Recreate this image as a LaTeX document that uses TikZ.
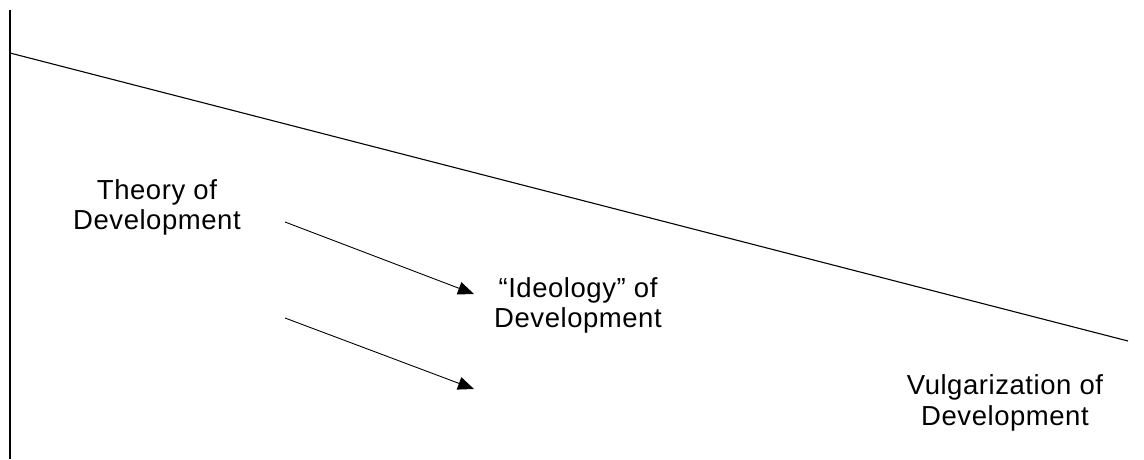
\documentclass[tikz,border=0pt]{standalone}
\usepackage{fontspec}
\setmainfont{Liberation Sans}
\newfontfamily\labfont[LetterSpace=2]{Liberation Sans}
\usetikzlibrary{arrows.meta}
\tikzset{
  lab/.style={align=center, inner sep=0pt, font=\labfont\fontsize{27.5}{30.5}\selectfont},
  axis/.style={line width=2pt},
  slope/.style={line width=1.1pt},
  arr/.style={line width=0.9pt, -{Triangle[length=16pt,width=13pt]}}
}
\begin{document}
\begin{tikzpicture}[x=1pt,y=-1pt]
\useasboundingbox (0,0) rectangle (1144,459);
\coordinate (vtop) at (10,10);
\coordinate (vbot) at (10,459);
\coordinate (dstart) at (10,53);
\coordinate (dend) at (1128,341);
\coordinate (a1s) at (285,222);
\coordinate (a1e) at (474,294);
\coordinate (a2s) at (285,318);
\coordinate (a2e) at (474,389);
\draw[axis] (vtop) -- (vbot);
\draw[slope] (dstart) -- (dend);
\draw[arr] (a1s) -- (a1e);
\draw[arr] (a2s) -- (a2e);
\node[lab] (theory) at (157,207.5) {Theory of\\Development};
\node[lab] (ideology) at (578,305.5) {“Ideology” of\\Development};
\node[lab] (vulgar) at (1005,403) {Vulgarization of\\Development};
\end{tikzpicture}
\end{document}
